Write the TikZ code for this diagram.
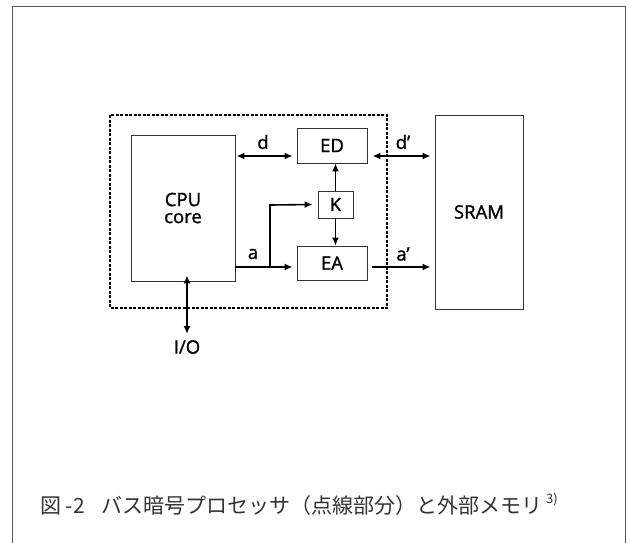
\documentclass[tikz,border=0pt]{standalone}
\usepackage{fontspec}
\setmainfont{Open Sans}
\newfontfamily\semib{Open Sans}[FakeBold=1.3]
\newfontfamily\cjk{Noto Sans CJK JP}
\usetikzlibrary{arrows.meta}
\begin{document}
\begin{tikzpicture}[x=1pt,y=-1pt,
  blk/.style={draw=black!80,line width=0.9pt,inner sep=0pt,font=\semib\fontsize{18.5}{20}\selectfont},
  arr/.style={line width=1.6pt,-{Latex[length=8pt,width=7pt]}},
  biarr/.style={line width=1.6pt,{Latex[length=8pt,width=7pt]}-{Latex[length=8pt,width=7pt]}},
  lbl/.style={font=\semib\fontsize{18.5}{20}\selectfont,inner sep=0pt}]
\useasboundingbox (0,0) rectangle (627,542);
\draw[black!65,line width=1pt] (12,6) -- (625,6) -- (625,545) (12,545) -- (12,6);
\draw[black,line width=1.1pt,dash pattern=on 3pt off 1.5pt] (110,115) rectangle (387,308);
\node[blk,minimum width=104pt,minimum height=146pt,align=center] (cpu) at (183,208) {CPU\\[-3pt]core};
\node[blk,minimum width=70pt,minimum height=35pt] (ed) at (332,145.5) {ED};
\node[blk,minimum width=35pt,minimum height=27pt] (k) at (335.5,204.5) {K};
\node[blk,minimum width=70pt,minimum height=34pt] (ea) at (332,263) {EA};
\node[blk,minimum width=88pt,minimum height=194pt] (sram) at (479,212) {SRAM};
\coordinate (dl) at (cpu.east |- 0,156);
\coordinate (dr) at (ed.west |- 0,156);
\draw[biarr] ([xshift=1pt]dl) -- ([xshift=-4pt]dr);
\node[lbl] at (263,142) {d};
\coordinate (dpl) at (ed.east |- 0,156);
\coordinate (dpr) at (sram.west |- 0,156);
\draw[biarr] ([xshift=5pt]dpl) -- ([xshift=-4pt]dpr);
\node[lbl] at (403,142) {d’};
\coordinate (al) at (cpu.east |- 0,267);
\coordinate (ar) at (ea.west |- 0,267);
\coordinate (br) at (270,267);
\draw[arr] (al) -- ([xshift=-4pt]ar);
\draw[arr] (br) -- (270,205) -- ([xshift=-5pt]k.west);
\node[lbl] at (253,254) {a};
\draw[arr] (k.north) -- (k.north |- ed.south);
\draw[arr] (k.south) -- (k.south |- ea.north);
\coordinate (apl) at (ea.east |- 0,267);
\coordinate (apr) at (sram.west |- 0,267);
\draw[arr] ([xshift=5pt]apl) -- ([xshift=-4pt]apr);
\node[lbl] at (403,254) {a’};
\coordinate (io) at (187,334);
\draw[biarr] ([yshift=6pt]cpu.south -| io) -- (io);
\node[lbl] at (187,347) {I/O};
\node[anchor=west,inner sep=0pt,font=\cjk\fontsize{21}{23}\selectfont,text=black!80] (cap) at (40,504) {図 -2\hspace{0.8em}バス暗号プロセッサ（点線部分）と外部メモリ\,\raisebox{0.45em}{\fontsize{13}{13}\selectfont 3)}};
\end{tikzpicture}
\end{document}
